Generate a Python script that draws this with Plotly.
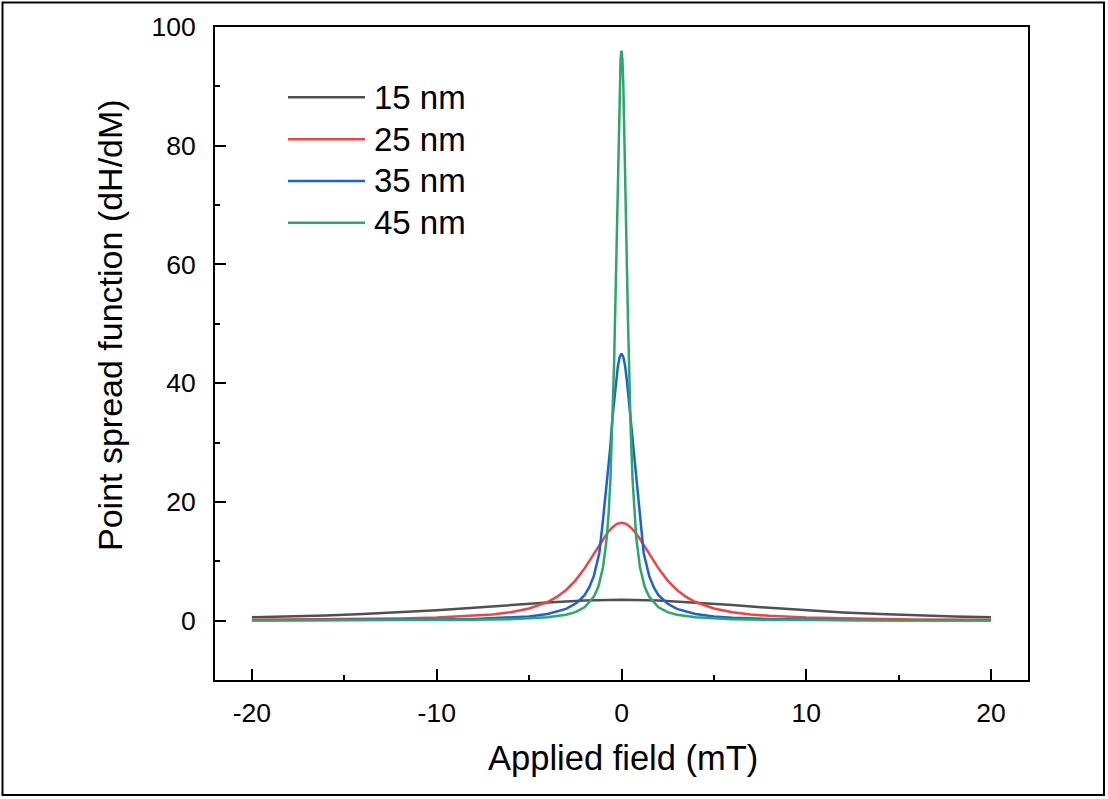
import plotly.graph_objects as go

# Applied field (mT) and point spread function (dH/dM) for each particle size
field_15 = [-20, -18, -16, -14, -12, -10, -8, -6, -4, -2, 0,
            2, 4, 6, 8, 10, 12, 14, 16, 18, 20]
psf_15 = [0.58, 0.71, 0.88, 1.10, 1.38, 1.74, 2.16, 2.62, 3.06, 3.38, 3.50,
          3.38, 3.06, 2.62, 2.16, 1.74, 1.38, 1.10, 0.88, 0.71, 0.58]

field_25 = [-20, -18, -16, -14, -12, -10, -8, -7, -6, -5, -4, -3.5, -3, -2.5, -2,
            -1.75, -1.5, -1.25, -1, -0.75, -0.5, -0.25, 0,
            0.25, 0.5, 0.75, 1, 1.25, 1.5, 1.75,
            2, 2.5, 3, 3.5, 4, 5, 6, 7, 8, 10, 12, 14, 16, 18, 20]
psf_25 = [0.13, 0.16, 0.20, 0.26, 0.36, 0.52, 0.81, 1.05, 1.43, 2.05, 3.14, 4.0, 5.17, 6.75, 8.8,
          10.0, 11.2, 12.5, 13.75, 14.85, 15.7, 16.3, 16.5,
          16.3, 15.7, 14.85, 13.75, 12.5, 11.2, 10.0,
          8.8, 6.75, 5.17, 4.0, 3.14, 2.05, 1.43, 1.05, 0.81, 0.52, 0.36, 0.26, 0.20, 0.16, 0.13]

field_35 = [-20, -15, -12, -10, -8, -6, -5, -4, -3, -2.5, -2.3, -2, -1.75, -1.5, -1.2,
            -1, -0.8, -0.6, -0.5, -0.4, -0.3, -0.2, -0.1, 0,
            0.1, 0.2, 0.3, 0.4, 0.5, 0.6, 0.8, 1,
            1.2, 1.5, 1.75, 2, 2.3, 2.5, 3, 4, 5, 6, 8, 10, 12, 15, 20]
psf_35 = [0.045, 0.08, 0.12, 0.18, 0.28, 0.50, 0.71, 1.12, 1.98, 2.84, 3.35, 4.3, 5.6, 7.5, 11.4,
          17.0, 23.0, 29.4, 33.8, 37.0, 40.2, 42.8, 44.4, 45.0,
          44.4, 42.8, 40.2, 37.0, 33.8, 29.4, 23.0, 17.0,
          11.4, 7.5, 5.6, 4.3, 3.35, 2.84, 1.98, 1.12, 0.71, 0.50, 0.28, 0.18, 0.12, 0.08, 0.045]

field_45 = [-20, -15, -12, -10, -8, -6, -5, -4, -3, -2.5, -2, -1.5, -1.25, -1,
            -0.8, -0.7, -0.6, -0.5, -0.4, -0.35, -0.3, -0.25, -0.2, -0.15, -0.1, -0.05, 0,
            0.05, 0.1, 0.15, 0.2, 0.25, 0.3, 0.35, 0.4, 0.5, 0.6, 0.7, 0.8,
            1, 1.25, 1.5, 2, 2.5, 3, 4, 5, 6, 8, 10, 12, 15, 20]
psf_45 = [0.02, 0.04, 0.06, 0.09, 0.14, 0.25, 0.36, 0.56, 1.0, 1.44, 2.25, 4.0, 5.75, 8.98,
          13.9, 17.9, 23.7, 32.0, 43.5, 50.6, 58.6, 67.0, 76.3, 83.5, 90.1, 94.5, 96.0,
          94.5, 90.1, 83.5, 76.3, 67.0, 58.6, 50.6, 43.5, 32.0, 23.7, 17.9, 13.9,
          8.98, 5.75, 4.0, 2.25, 1.44, 1.0, 0.56, 0.36, 0.25, 0.14, 0.09, 0.06, 0.04, 0.02]

labels = ["15 nm", "25 nm", "35 nm", "45 nm"]
colors = ["#505050", "#F04444", "#1A62DA", "#2BA868"]
series = [(field_15, psf_15), (field_25, psf_25), (field_35, psf_35), (field_45, psf_45)]

FONT = "Arial, Liberation Sans, sans-serif"

fig = go.Figure()
for (xs, ys), name, col in zip(series, labels, colors):
    fig.add_trace(go.Scatter(x=xs, y=ys, mode="lines", name=name,
                             line=dict(color=col, width=2.5), showlegend=False))

# Plot area in pixels: left 215, right 1028, top 27, bottom 680
W_PLOT, H_PLOT = 813.0, 653.0


def px_x(p):
    return (p - 215.0) / W_PLOT


def px_y(p):
    return (680.0 - p) / H_PLOT


# Hand-placed legend: long line samples with text to their right
legend_rows = [97.3, 139.3, 181.0, 222.7]
for row, name, col in zip(legend_rows, labels, colors):
    fig.add_shape(type="line", xref="paper", yref="paper",
                  x0=px_x(288), x1=px_x(365), y0=px_y(row), y1=px_y(row),
                  line=dict(color=col, width=2.5))
    fig.add_annotation(xref="paper", yref="paper", x=px_x(372), y=px_y(row),
                       xanchor="left", yanchor="middle", showarrow=False,
                       text=name, font=dict(family=FONT, size=33, color="black"))

# Axis titles
fig.add_annotation(xref="paper", yref="paper", x=px_x(622.5), y=px_y(758),
                   xanchor="center", yanchor="middle", showarrow=False,
                   text="Applied field (mT)", font=dict(family=FONT, size=34.5, color="black"))
fig.add_annotation(xref="paper", yref="paper", x=px_x(110), y=px_y(325),
                   xanchor="center", yanchor="middle", showarrow=False, textangle=-90,
                   text="Point spread function (dH/dM)", font=dict(family=FONT, size=34, color="black"))

# Outer frame around the whole figure
fig.add_shape(type="rect", xref="paper", yref="paper",
              x0=px_x(2.5), x1=px_x(1104), y0=px_y(795), y1=px_y(2.5),
              line=dict(color="black", width=2), fillcolor="rgba(0,0,0,0)")

axis_common = dict(
    showgrid=False, zeroline=False, showline=True, linecolor="black", linewidth=2,
    mirror=True, ticks="inside", ticklen=11, tickwidth=2, tickcolor="black",
    tickfont=dict(family=FONT, size=26.5, color="black"),
)

fig.update_xaxes(range=[-22, 22], tickvals=[-20, -10, 0, 10, 20],
                 ticktext=["-20", "-10", "0", "10", "20"],
                 minor=dict(tickvals=[-15, -5, 5, 15], ticks="inside", ticklen=5,
                            tickwidth=2, tickcolor="black"),
                 ticklabelstandoff=8, **axis_common)
fig.update_yaxes(range=[-10, 100], tickvals=[0, 20, 40, 60, 80, 100],
                 ticktext=["0", "20", "40", "60", "80", "100"],
                 minor=dict(tickvals=[10, 30, 50, 70, 90], ticks="inside", ticklen=5,
                            tickwidth=2, tickcolor="black"),
                 ticklabelstandoff=12, **axis_common)

fig.update_layout(
    width=1108, height=799,
    margin=dict(l=215, r=80, t=27, b=119),
    paper_bgcolor="white", plot_bgcolor="white",
    font=dict(family=FONT, color="black"),
    showlegend=False,
)

fig.write_html("out.html")
